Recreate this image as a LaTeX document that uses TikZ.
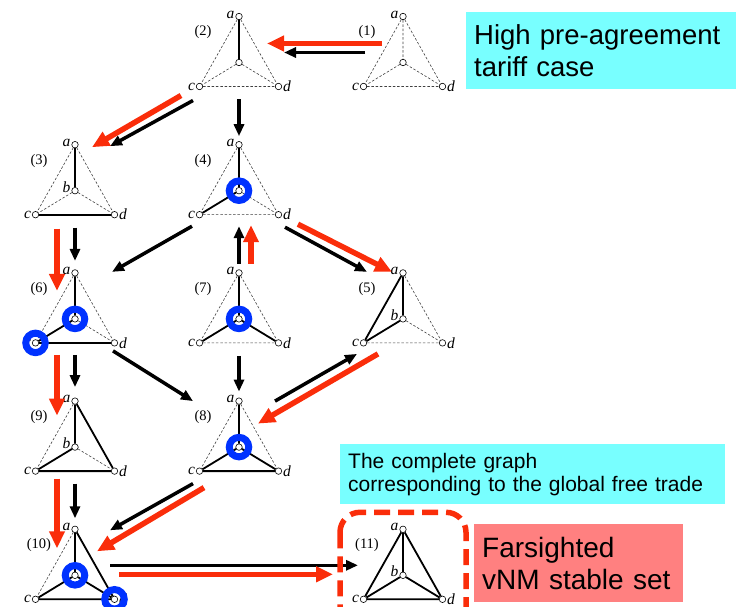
\documentclass[tikz,border=0pt]{standalone}
\usepackage{fontspec}
\setmainfont{Liberation Serif}
\newfontfamily\boxfont{Liberation Sans}
\usepackage{tikz}
\usetikzlibrary{shapes,arrows.meta}
\usetikzlibrary{positioning}
\usepackage{xcolor}

\definecolor{arrowred}{RGB}{250,45,10}
\definecolor{ringblue}{RGB}{0,50,255}
\definecolor{notecyan}{RGB}{120,255,255}
\definecolor{notesalmon}{RGB}{255,128,128}

% one network: apex a, centre b, base c--d; absent links dashed
\newcommand{\tradegraph}[4]{%
  \node[vtx,#2,label={[vlbl,yshift=2pt]left:a}] (#1a) {};
  \node[vtx,below=46pt of #1a,label={[vlbl,yshift=4pt]left:#4}] (#1b) {};
  \node[vtx,below left=70pt and 39.5pt of #1a,label={[vlbl]left:c}] (#1c) {};
  \node[vtx,below right=70pt and 39.5pt of #1a,label={[vlbl]right:d}] (#1d) {};
  \node[num,below left=16pt and 36pt of #1a] (#1n) {(#3)};
  \draw[nolink] (#1a) -- (#1b) (#1a) -- (#1c) (#1a) -- (#1d)
    (#1b) -- (#1c) (#1b) -- (#1d) (#1c) -- (#1d);
}

\begin{document}
\begin{tikzpicture}[x=1pt, y=1pt, on grid,
    vtx/.style={circle, draw, fill=white, inner sep=0pt, minimum size=6.5pt, line width=0.6pt},
    vlbl/.style={font=\fontsize{15.5}{15.5}\selectfont\itshape, inner sep=0.8pt},
    num/.style={font=\fontsize{14.5}{14.5}\selectfont},
    link/.style={line width=1.8pt},
    nolink/.style={line width=0.6pt, black!75, dash pattern=on 2.5pt off 1.8pt},
    ring/.style={circle, draw=ringblue, line width=7pt, inner sep=0pt, minimum size=19.5pt},
    blkarr/.style={-{Triangle[length=12pt,width=10pt]}, line width=3.5pt},
    redarr/.style={-{Triangle[length=17pt,width=15pt]}, line width=5.5pt, arrowred},
    note/.style={anchor=north west, align=left, inner xsep=8pt, inner ysep=0pt}]
  \useasboundingbox (0,0) rectangle (740,-607);

  % Networks
  \tradegraph{g2}{at={(239,-16.5)}}{2}{}
  \tradegraph{g1}{right=164pt of g2a}{1}{}
  \tradegraph{g4}{below=128.2pt of g2a}{4}{}
  \tradegraph{g3}{left=164pt of g4a}{3}{b}
  \tradegraph{g7}{below=128.2pt of g4a}{7}{}
  \tradegraph{g6}{left=164pt of g7a}{6}{}
  \tradegraph{g5}{right=164pt of g7a}{5}{b}
  \tradegraph{g8}{below=128.2pt of g7a}{8}{}
  \tradegraph{g9}{left=164pt of g8a}{9}{b}
  \tradegraph{g10}{below=128.2pt of g9a}{10}{}
  \tradegraph{g11}{right=328pt of g10a}{11}{b}

  % FTA links
  \draw[link] (g2a) -- (g2b);
  \draw[link] (g3a) -- (g3b) (g3c) -- (g3d);
  \draw[link] (g4a) -- (g4b) -- (g4c);
  \draw[link] (g6a) -- (g6b) -- (g6c) -- (g6d);
  \draw[link] (g7a) -- (g7b) (g7b) -- (g7c) (g7b) -- (g7d);
  \draw[link] (g5a) -- (g5b) -- (g5c) -- (g5a);
  \draw[link] (g9a) -- (g9b) -- (g9c) -- (g9d) -- (g9a);
  \draw[link] (g8a) -- (g8b) (g8b) -- (g8c) (g8b) -- (g8d) (g8c) -- (g8d);
  \draw[link] (g10a) -- (g10b) (g10b) -- (g10c) (g10b) -- (g10d) (g10c) -- (g10d) (g10a) -- (g10d);
  \draw[link] (g11a) -- (g11b) (g11a) -- (g11c) (g11a) -- (g11d)
    (g11b) -- (g11c) (g11b) -- (g11d) (g11c) -- (g11d);

  % deviating countries
  \node[ring] (r4) at (g4b) {};
  \node[ring] (r6b) at (g6b) {};
  \node[ring] (r6c) at (g6c) {};
  \node[ring] (r7) at (g7b) {};
  \node[ring] (r8) at (g8b) {};
  \node[ring] (r10b) at (g10b) {};
  \node[ring] (r10d) at (g10d) {};

  % Moves
  \draw[redarr] ([shift={(-21,-27)}]g1a.center) -- ([shift={(28,-27)}]g2a.center);
  \draw[blkarr] ([shift={(-38,-36)}]g1a.center) -- ([shift={(45,-36)}]g2a.center);
  \draw[redarr] ([shift={(-58,-79)}]g2a.center) -- ([shift={(17,-2.5)}]g3a.center);
  \draw[blkarr] ([shift={(-46,-84)}]g2a.center) -- ([shift={(35,-1.5)}]g3a.center);
  \draw[blkarr] ([shift={(0,-83)}]g2a.center) -- ([shift={(0,8.5)}]g4a.center);
  \draw[redarr] ([shift={(-18,-84)}]g3a.center) -- ([shift={(-18,-18)}]g6a.center);
  \draw[blkarr] ([shift={(0,-83)}]g3a.center) -- ([shift={(0,12)}]g6a.center);
  \draw[blkarr] ([shift={(-47,-81.5)}]g4a.center) -- ([shift={(37,1)}]g6a.center);
  \draw[blkarr] ([shift={(46,-82.5)}]g4a.center) -- ([shift={(-36,1)}]g5a.center);
  \draw[redarr] ([shift={(59,-79.5)}]g4a.center) -- ([shift={(-11,1)}]g5a.center);
  \draw[blkarr] ([shift={(0,9)}]g7a.center) -- ([shift={(0,-81.5)}]g4a.center);
  \draw[redarr] ([shift={(12,9)}]g7a.center) -- ([shift={(12,-80.5)}]g4a.center);
  \draw[redarr] ([shift={(-18,-82)}]g6a.center) -- ([shift={(-18,-14.5)}]g9a.center);
  \draw[blkarr] ([shift={(0,-82)}]g6a.center) -- ([shift={(0,14)}]g9a.center);
  \draw[blkarr] ([shift={(38,-78)}]g6a.center) -- ([shift={(-46,0)}]g8a.center);
  \draw[blkarr] ([shift={(0,-83)}]g7a.center) -- ([shift={(0,9.5)}]g8a.center);
  \draw[blkarr] ([shift={(36,0)}]g8a.center) -- ([shift={(-46,-81)}]g5a.center);
  \draw[redarr] ([shift={(-25,-81)}]g5a.center) -- ([shift={(19,-22.5)}]g8a.center);
  \draw[redarr] ([shift={(-18,-77.5)}]g9a.center) -- ([shift={(-18,-19)}]g10a.center);
  \draw[blkarr] ([shift={(0,-82.5)}]g9a.center) -- ([shift={(0,11)}]g10a.center);
  \draw[blkarr] ([shift={(-46,-82.5)}]g8a.center) -- ([shift={(35,-1)}]g10a.center);
  \draw[redarr] ([shift={(-35,-86.5)}]g8a.center) -- ([shift={(22,-22)}]g10a.center);
  \draw[blkarr] ([shift={(35,-36)}]g10a.center) -- ([shift={(-45,-36)}]g11a.center);
  \draw[redarr] ([shift={(44,-45)}]g10a.center) -- ([shift={(-70,-45)}]g11a.center);

  % stable set frame and notes
  \draw[arrowred, line width=5.5pt, dash pattern=on 16pt off 8pt, rounded corners=20pt]
    ([shift={(-63,17)}]g11a.center) rectangle ([shift={(63,-109)}]g11a.center);
  \node[note, fill=notecyan, minimum width=270pt, minimum height=77pt, text width=254pt,
    font=\boxfont\fontsize{27.5}{32}\selectfont] (hightariff) at (466,-12) {High pre-agreement\\tariff case};
  \node[note, fill=notecyan, minimum width=385pt, minimum height=60pt, text width=369pt,
    font=\boxfont\fontsize{21}{23}\selectfont] (freetrade) at (340,-444) {The complete graph\\corresponding to the global free trade};
  \node[note, fill=notesalmon, minimum width=209pt, minimum height=78pt, text width=193pt,
    font=\boxfont\fontsize{28}{32}\selectfont] (stableset) at (474,-524) {Farsighted\\vNM stable set};
\end{tikzpicture}
\end{document}
